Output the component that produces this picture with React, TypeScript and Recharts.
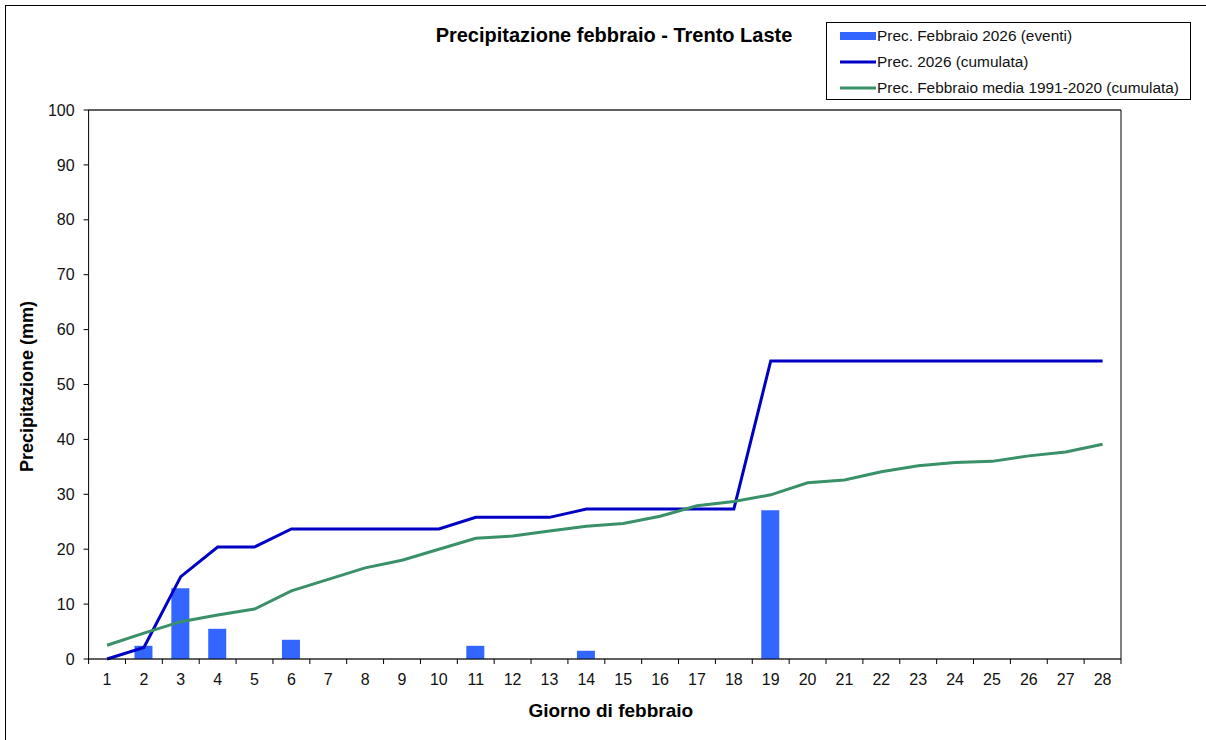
import React from 'react';
import {
  ComposedChart,
  Bar,
  Line,
  XAxis,
  YAxis,
  CartesianGrid,
  Legend,
  ReferenceLine,
} from 'recharts';

// ---- Data ----
const days = [
  '1', '2', '3', '4', '5', '6', '7', '8', '9', '10', '11', '12', '13', '14',
  '15', '16', '17', '18', '19', '20', '21', '22', '23', '24', '25', '26', '27', '28',
];
const dailyEvents2026 = [
  0, 2.4, 12.9, 5.5, 0, 3.5, 0, 0, 0, 0, 2.4, 0, 0, 1.5,
  0, 0, 0, 0, 27.1, 0, 0, 0, 0, 0, 0, 0, 0, 0,
];
const cumulated2026 = [
  0, 2.1, 15.0, 20.4, 20.4, 23.7, 23.7, 23.7, 23.7, 23.7, 25.8, 25.8, 25.8, 27.3,
  27.3, 27.3, 27.3, 27.3, 54.3, 54.3, 54.3, 54.3, 54.3, 54.3, 54.3, 54.3, 54.3, 54.3,
];
const meanCumulated19912020 = [
  2.5, 4.7, 6.8, 8.0, 9.1, 12.4, 14.5, 16.6, 18.0, 20.0, 22.0, 22.4, 23.3, 24.2,
  24.7, 26.0, 27.9, 28.7, 29.9, 32.1, 32.6, 34.1, 35.2, 35.8, 36.0, 37.0, 37.7, 39.1,
];
const yTicks = [0, 10, 20, 30, 40, 50, 60, 70, 80, 90, 100];
const seriesNames = [
  'Prec. Febbraio 2026 (eventi)',
  'Prec. 2026 (cumulata)',
  'Prec. Febbraio media 1991-2020 (cumulata)',
];
const chartTitle = 'Precipitazione febbraio - Trento Laste';
const xAxisTitle = 'Giorno di febbraio';
const yAxisTitle = 'Precipitazione (mm)';

const data = days.map((d, i) => ({
  day: d,
  eventi: dailyEvents2026[i],
  cum: cumulated2026[i],
  media: meanCumulated19912020[i],
}));

// ---- Layout ----
const W = 1206;
const H = 740;
const RIGHT_AXIS_W = 1;
const MARGIN = { top: 110, right: 84, bottom: 0, left: 0 };
const Y_AXIS_W = 88.6;
const X_AXIS_H = 81;
const PLOT_W = W - MARGIN.left - MARGIN.right - Y_AXIS_W - RIGHT_AXIS_W;
const BAND = PLOT_W / days.length;
const FONT = '"Liberation Sans", Arial, Helvetica, sans-serif';

const BAR_COLOR = '#3366FF';
const BLUE = '#0000C4';
const GREEN = '#3A9068';

const XTick = (props: any) => {
  const { x, y, payload, index } = props;
  const half = BAND / 2;
  return (
    <g>
      <line x1={x - half} x2={x - half} y1={y - 8} y2={y - 3} stroke="#000" strokeWidth={1} />
      {index === days.length - 1 && (
        <line x1={x + half} x2={x + half} y1={y - 8} y2={y - 3} stroke="#000" strokeWidth={1} />
      )}
      <text x={x} y={y + 18} textAnchor="middle" fontSize={16} fontFamily={FONT} fill="#111">
        {payload.value}
      </text>
    </g>
  );
};

const renderLegend = (props: any) => {
  const items = [...(props.payload || [])].sort(
    (a: any, b: any) => seriesNames.indexOf(a.value) - seriesNames.indexOf(b.value)
  );
  return (
    <div
      style={{
        border: '1px solid #000',
        width: 365,
        height: 78,
        boxSizing: 'border-box',
        background: '#fff',
        fontFamily: FONT,
        fontSize: 15.4,
        color: '#111',
      }}
    >
      {items.map((p: any, i: number) => (
        <div key={i} style={{ display: 'flex', alignItems: 'center', height: 26 }}>
          <svg width={37} height={12} style={{ marginLeft: 13, flex: 'none' }}>
            {p.type === 'rect' ? (
              <rect x={0} y={2} width={36} height={8} fill={p.color} />
            ) : (
              <line x1={0} x2={36} y1={6} y2={6} stroke={p.color} strokeWidth={3} />
            )}
          </svg>
          <span style={{ whiteSpace: 'nowrap' }}>{p.value}</span>
        </div>
      ))}
    </div>
  );
};

export default function App() {
  return (
    <div
      style={{
        position: 'absolute',
        left: 0,
        top: 0,
        width: W,
        height: H,
        overflow: 'hidden',
        background: '#fff',
      }}
    >
      <div
        style={{
          position: 'absolute',
          left: 5,
          top: 5,
          width: W + 50,
          height: H + 50,
          border: '1px solid #000',
        }}
      />
      <div
        style={{
          position: 'absolute',
          left: 614 - 300,
          top: 24,
          width: 600,
          textAlign: 'center',
          fontFamily: FONT,
          fontWeight: 'bold',
          fontSize: 20,
          lineHeight: '22px',
          color: '#000',
          zIndex: 2,
        }}
      >
        {chartTitle}
      </div>
      <div style={{ position: 'absolute', left: 0, top: 0 }}>
        <ComposedChart width={W} height={H} data={data} margin={MARGIN}>
          <CartesianGrid vertical={false} stroke="#000" strokeDasharray="1 1" />
          <XAxis
            dataKey="day"
            height={X_AXIS_H}
            axisLine={{ stroke: '#000' }}
            tickLine={false}
            tickSize={6}
            tickMargin={2}
            interval={0}
            tick={<XTick />}
            label={{
              position: 'insideBottom',
              content: (lp: any) => {
                const vb = lp.viewBox || {};
                return (
                  <text
                    x={vb.x + vb.width / 2 + 6}
                    y={vb.y + 58}
                    textAnchor="middle"
                    fontFamily={FONT}
                    fontWeight="bold"
                    fontSize={19}
                    fill="#000"
                  >
                    {xAxisTitle}
                  </text>
                );
              },
            }}
          />
          <YAxis
            yAxisId="left"
            width={Y_AXIS_W}
            domain={[0, 100]}
            ticks={yTicks}
            interval={0}
            axisLine={{ stroke: '#000' }}
            tickLine={{ stroke: '#000' }}
            tickSize={5}
            tickMargin={9}
            tick={{ fontSize: 16, fontFamily: FONT, fill: '#111' }}
            label={{
              position: 'insideLeft',
              content: (lp: any) => {
                const vb = lp.viewBox || {};
                const cx = vb.x + 33;
                const cy = vb.y + vb.height / 2 + 2;
                return (
                  <text
                    x={cx}
                    y={cy}
                    transform={`rotate(-90, ${cx}, ${cy})`}
                    textAnchor="middle"
                    fontFamily={FONT}
                    fontWeight="bold"
                    fontSize={18}
                    fill="#000"
                  >
                    {yAxisTitle}
                  </text>
                );
              },
            }}
          />
          <YAxis
            yAxisId="right"
            orientation="right"
            width={RIGHT_AXIS_W}
            domain={[0, 100]}
            ticks={yTicks}
            tick={false}
            tickLine={false}
            axisLine={{ stroke: '#000' }}
          />
          <ReferenceLine yAxisId="left" y={100} stroke="#000" strokeWidth={1} />
          <Legend
            verticalAlign="middle"
            align="center"
            layout="vertical"
            content={renderLegend}
            wrapperStyle={{ position: 'absolute', left: 826, top: 22, width: 365, height: 78 }}
          />
          <Bar
            yAxisId="left"
            dataKey="eventi"
            name={seriesNames[0]}
            fill={BAR_COLOR}
            barSize={18}
            isAnimationActive={false}
          />
          <Line
            yAxisId="left"
            type="linear"
            dataKey="cum"
            name={seriesNames[1]}
            stroke={BLUE}
            strokeWidth={3}
            dot={false}
            activeDot={false}
            isAnimationActive={false}
          />
          <Line
            yAxisId="left"
            type="linear"
            dataKey="media"
            name={seriesNames[2]}
            stroke={GREEN}
            strokeWidth={3}
            dot={false}
            activeDot={false}
            isAnimationActive={false}
          />
        </ComposedChart>
      </div>
    </div>
  );
}
